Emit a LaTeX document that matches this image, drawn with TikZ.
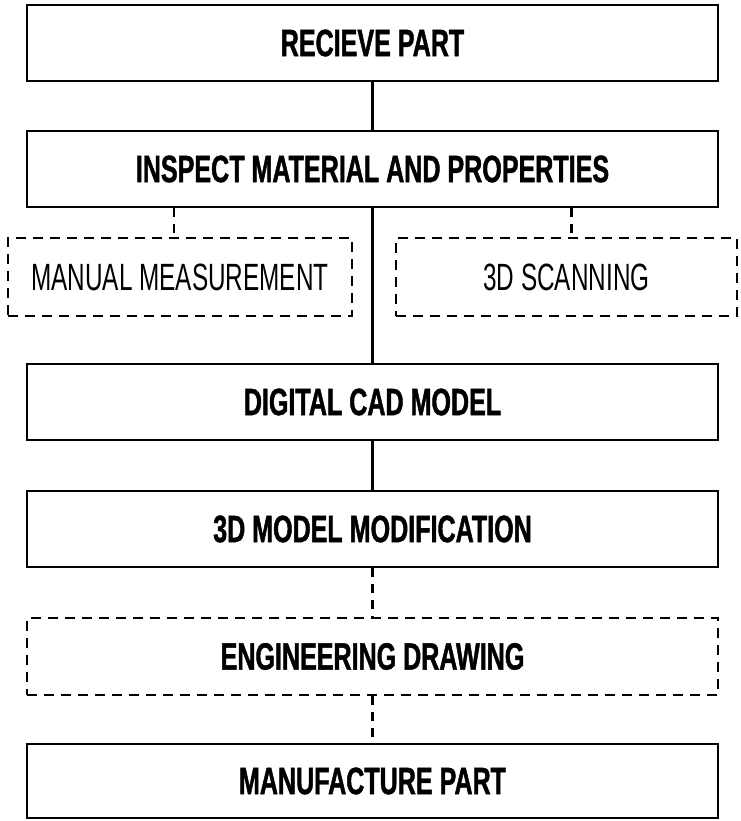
\documentclass[tikz,border=0pt]{standalone}
\usepackage{fontspec}
\newfontfamily\condbold[FakeStretch=0.66,FakeBold=1.2]{Liberation Sans Bold}
\newfontfamily\condreg[FakeStretch=0.64]{Liberation Sans}
\begin{document}
\begin{tikzpicture}[x=1pt,y=-1pt,
  mainbox/.style={draw=black,line width=2.4pt,rectangle,inner sep=0pt,minimum width=691pt,minimum height=76pt,
    font=\condbold\fontsize{38}{42}\selectfont},
  dashbox/.style={draw=black,line width=2.4pt,rectangle,inner sep=0pt,dash pattern=on 10pt off 7pt},
  optbox/.style={dashbox,minimum height=78pt,font=\condreg\fontsize{38}{42}\selectfont},
  conn/.style={draw=black,line width=2.2pt},
  dconn/.style={conn,dash pattern=on 9pt off 7pt}]
\useasboundingbox (0,0) rectangle (740,821);
\node[mainbox] (b1) at (372.5,43) {RECIEVE PART};
\node[mainbox] (b2) at (372.5,169) {INSPECT MATERIAL AND PROPERTIES};
\node[optbox,minimum width=344pt] (m1) at (180,277) {MANUAL MEASUREMENT};
\node[optbox,minimum width=341pt] (m2) at (566.5,277) {3D SCANNING};
\node[mainbox] (b5) at (372.5,402) {DIGITAL CAD MODEL};
\node[mainbox] (b6) at (372.5,529) {3D MODEL MODIFICATION};
\node[mainbox,dashbox,minimum height=77pt] (b7) at (372.5,656.5) {ENGINEERING DRAWING};
\node[mainbox,minimum height=74pt] (b8) at (372.5,781) {MANUFACTURE PART};
\draw[conn] (b1.south) -- (b2.north);
\draw[conn] (b2.south) -- (b5.north);
\draw[dconn] ([xshift=-6pt]m1.north |- b2.south) -- ([xshift=-6pt]m1.north);
\draw[dconn] ([xshift=5pt]m2.north |- b2.south) -- ([xshift=5pt]m2.north);
\draw[conn] (b5.south) -- (b6.north);
\draw[dconn] (b6.south) -- (b7.north);
\draw[dconn] (b7.south) -- (b8.north);
\end{tikzpicture}
\end{document}
